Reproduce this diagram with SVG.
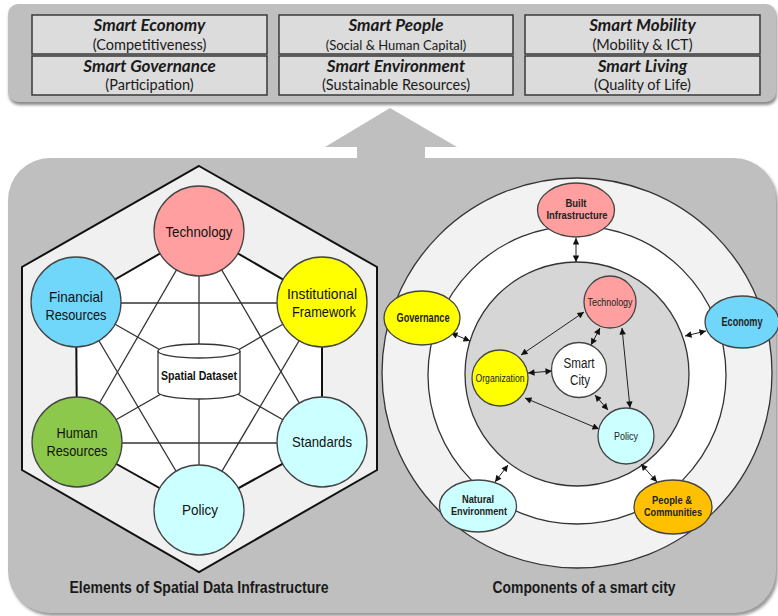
<svg xmlns="http://www.w3.org/2000/svg" width="778" height="616" viewBox="0 0 778 616">
<defs>
<style>
.bx{fill:#dcdcdc;stroke:#3a3a3a;stroke-width:1.5}
.t1{font-family:Lato,"Open Sans","Liberation Sans",sans-serif;font-weight:bold;font-style:italic;font-size:17px;fill:#1a1a1a;text-anchor:middle}
.t2{font-family:Lato,"Open Sans","Liberation Sans",sans-serif;font-size:14.5px;fill:#1a1a1a;text-anchor:middle}
.thick{stroke:#111;stroke-width:2;fill:none}
.thin{stroke:#333;stroke-width:1.3;fill:none}
.nd{stroke:#444;stroke-width:1.3}
.lb{font-family:"Liberation Sans",Arial,sans-serif;font-size:15px;fill:#111;text-anchor:middle}
.sl{font-family:"Liberation Sans",Arial,sans-serif;font-size:12px;font-weight:bold;fill:#222;text-anchor:middle}
.s2{font-family:"Liberation Sans",Arial,sans-serif;font-size:10.5px;font-weight:bold;fill:#222;text-anchor:middle}
.sn{font-family:"Liberation Sans",Arial,sans-serif;font-size:11.5px;fill:#222;text-anchor:middle}
.cap{font-family:"Liberation Sans",Arial,sans-serif;font-size:17px;font-weight:bold;fill:#1a1a1a;text-anchor:middle}
.ar{stroke:#222;stroke-width:1;fill:none;marker-start:url(#ah);marker-end:url(#ah)}
</style>
<marker id="ah" viewBox="0 0 10 10" refX="10" refY="5" markerWidth="8" markerHeight="6.5" orient="auto-start-reverse" markerUnits="userSpaceOnUse">
<path d="M0,0 L10,5 L0,10 z" fill="#111"/>
</marker>
<filter id="sh" x="-5%" y="-5%" width="110%" height="115%"><feGaussianBlur stdDeviation="1.5"/></filter>
</defs>

<!-- top banner -->
<g id="banner">
<rect x="9" y="7" width="768" height="98" rx="10" fill="#8a8a8a" filter="url(#sh)"/>
<rect x="8" y="4" width="768" height="98" rx="10" fill="#bfbfbf"/>
<rect class="bx" x="32" y="15" width="235" height="39"/>
<rect class="bx" x="32" y="56" width="235" height="39"/>
<rect class="bx" x="279" y="15" width="234" height="39"/>
<rect class="bx" x="279" y="56" width="234" height="39"/>
<rect class="bx" x="525" y="15" width="235" height="39"/>
<rect class="bx" x="525" y="56" width="235" height="39"/>
<text class="t1" x="149.5" y="31">Smart Economy</text>
<text class="t2" x="149.5" y="50">(Competitiveness)</text>
<text class="t1" x="149.5" y="72">Smart Governance</text>
<text class="t2" x="149.5" y="90">(Participation)</text>
<text class="t1" x="396" y="31">Smart People</text>
<text class="t2" x="396" y="50" style="font-size:13px">(Social &amp; Human Capital)</text>
<text class="t1" x="396" y="72">Smart Environment</text>
<text class="t2" x="396" y="90">(Sustainable Resources)</text>
<text class="t1" x="642.5" y="31">Smart Mobility</text>
<text class="t2" x="642.5" y="50">(Mobility &amp; ICT)</text>
<text class="t1" x="642.5" y="72">Smart Living</text>
<text class="t2" x="642.5" y="90">(Quality of Life)</text>
</g>

<!-- up arrow and main panel -->
<g id="panel">
<rect x="10" y="161" width="768" height="455" rx="42" fill="#9a9a9a" filter="url(#sh)"/>
<polygon points="390,108 457,147 425,147 425,160 357,160 357,147 325,147" fill="#bfbfbf"/>
<rect x="8" y="158" width="768" height="455" rx="42" fill="#bfbfbf"/>
<polygon points="199,166 377,267 377,470 199,572 22,470 22,267" fill="#f0f0f0" stroke="#111" stroke-width="2"/>
<polygon points="199,231 322,302 322,442 199,510 77,442 76,302" fill="#ffffff"/>
<circle cx="577" cy="373" r="195" fill="#f2f2f2" stroke="#333" stroke-width="1.3"/>
<circle cx="577" cy="375" r="149" fill="#ffffff" stroke="#333" stroke-width="1.3"/>
<circle cx="577" cy="374" r="112" fill="#d6d6d6" stroke="#333" stroke-width="1.3"/>
<text class="cap" x="199" y="593" textLength="259" lengthAdjust="spacingAndGlyphs">Elements of Spatial Data Infrastructure</text>
<text class="cap" x="584" y="593" textLength="183" lengthAdjust="spacingAndGlyphs">Components of a smart city</text>
</g>

<!-- connectors -->
<g id="connectors">
<line class="thick" x1="199" y1="231" x2="76" y2="302"/>
<line class="thick" x1="199" y1="231" x2="322" y2="302"/>
<line class="thick" x1="76" y1="302" x2="77" y2="442"/>
<line class="thick" x1="322" y1="302" x2="322" y2="442"/>
<line class="thick" x1="77" y1="442" x2="199" y2="510"/>
<line class="thick" x1="322" y1="442" x2="199" y2="510"/>
<line class="thin" x1="76" y1="303" x2="322" y2="303"/>
<line class="thin" x1="77" y1="443" x2="322" y2="443"/>
<line class="thin" x1="199" y1="231" x2="199" y2="510"/>
<line class="thin" x1="199" y1="231" x2="77" y2="442"/>
<line class="thin" x1="199" y1="231" x2="322" y2="442"/>
<line class="thin" x1="76" y1="302" x2="199" y2="510"/>
<line class="thin" x1="322" y1="302" x2="199" y2="510"/>
<line class="thin" x1="76" y1="302" x2="322" y2="442"/>
<line class="thin" x1="322" y1="302" x2="77" y2="442"/>

<line class="ar" x1="576" y1="238" x2="576" y2="262"/>
<line class="ar" x1="451" y1="333" x2="470" y2="341"/>
<line class="ar" x1="685" y1="336" x2="706" y2="331"/>
<line class="ar" x1="495" y1="482" x2="508" y2="465"/>
<line class="ar" x1="641" y1="464" x2="657" y2="482"/>
<line class="ar" x1="584" y1="312" x2="521" y2="355"/>
<line class="ar" x1="600" y1="328" x2="591" y2="345"/>
<line class="ar" x1="622" y1="328" x2="630" y2="408"/>
<line class="ar" x1="528" y1="373" x2="552" y2="371"/>
<line class="ar" x1="525" y1="398" x2="599" y2="429"/>
<line class="ar" x1="595" y1="395" x2="608" y2="410"/>
</g>

<!-- SDI nodes -->
<g id="spatial-dataset">
<path d="M158,351 L158,392 A41,7 0 0 0 240,392 L240,351" fill="#ffffff" stroke="#333" stroke-width="1.3"/>
<ellipse cx="199" cy="351" rx="41" ry="7" fill="#ffffff" stroke="#333" stroke-width="1.3"/>
<text class="lb" x="199" y="380" style="font-size:13px;font-weight:bold" textLength="76" lengthAdjust="spacingAndGlyphs">Spatial Dataset</text>
</g>
<g id="technology"><circle class="nd" cx="199" cy="231" r="45" fill="#ff9f9f"/><text class="lb" x="199" y="237" textLength="67" lengthAdjust="spacingAndGlyphs">Technology</text></g>
<g id="financial"><circle class="nd" cx="76" cy="302" r="45" fill="#70d6fa"/><text class="lb" x="76" y="302" textLength="54" lengthAdjust="spacingAndGlyphs">Financial</text><text class="lb" x="76" y="320" textLength="61" lengthAdjust="spacingAndGlyphs">Resources</text></g>
<g id="institutional"><circle class="nd" cx="322" cy="302" r="45" fill="#ffff00"/><text class="lb" x="322" y="299" textLength="70" lengthAdjust="spacingAndGlyphs">Institutional</text><text class="lb" x="324" y="317" textLength="64" lengthAdjust="spacingAndGlyphs">Framework</text></g>
<g id="human"><circle class="nd" cx="77" cy="442" r="45" fill="#8cc84b"/><text class="lb" x="77" y="438" textLength="41" lengthAdjust="spacingAndGlyphs">Human</text><text class="lb" x="77" y="456" textLength="61" lengthAdjust="spacingAndGlyphs">Resources</text></g>
<g id="standards"><circle class="nd" cx="322" cy="442" r="45" fill="#ccffff"/><text class="lb" x="322" y="447" textLength="60" lengthAdjust="spacingAndGlyphs">Standards</text></g>
<g id="policy-sdi"><circle class="nd" cx="199" cy="510" r="45" fill="#ccffff"/><text class="lb" x="200" y="515" textLength="36" lengthAdjust="spacingAndGlyphs">Policy</text></g>

<!-- smart city nodes -->
<g id="built"><ellipse class="nd" cx="576" cy="210" rx="38.5" ry="27" fill="#ff9f9f"/><text class="s2" x="576" y="207" textLength="21" lengthAdjust="spacingAndGlyphs">Built</text><text class="s2" x="577" y="219" textLength="61" lengthAdjust="spacingAndGlyphs">Infrastructure</text></g>
<g id="governance"><ellipse class="nd" cx="422" cy="318" rx="38" ry="27" fill="#ffff00"/><text class="sl" x="423" y="322" textLength="53" lengthAdjust="spacingAndGlyphs">Governance</text></g>
<g id="economy"><ellipse class="nd" cx="742" cy="322" rx="37" ry="26" fill="#70d6fa"/><text class="sl" x="742" y="326" textLength="41" lengthAdjust="spacingAndGlyphs">Economy</text></g>
<g id="natural"><ellipse class="nd" cx="478" cy="506" rx="38.5" ry="26" fill="#ccffff"/><text class="s2" x="478" y="503" textLength="32" lengthAdjust="spacingAndGlyphs">Natural</text><text class="s2" x="479" y="515" textLength="56" lengthAdjust="spacingAndGlyphs">Environment</text></g>
<g id="people"><ellipse class="nd" cx="673" cy="507" rx="39" ry="27" fill="#ffc000"/><text class="s2" x="672" y="504" textLength="40" lengthAdjust="spacingAndGlyphs">People &amp;</text><text class="s2" x="673" y="516" textLength="58" lengthAdjust="spacingAndGlyphs">Communities</text></g>
<g id="tech-sc"><circle class="nd" cx="610" cy="302" r="26" fill="#ff9f9f"/><text class="sn" x="610" y="306" textLength="45" lengthAdjust="spacingAndGlyphs">Technology</text></g>
<g id="organization"><circle class="nd" cx="500" cy="378" r="28" fill="#ffff00"/><text class="sn" x="500" y="382" textLength="49" lengthAdjust="spacingAndGlyphs">Organization</text></g>
<g id="smart-city"><circle class="nd" cx="579" cy="370" r="27.5" fill="#ffffff"/><text class="sn" x="579" y="368" style="font-size:14px" textLength="31" lengthAdjust="spacingAndGlyphs">Smart</text><text class="sn" x="580" y="385" style="font-size:14px" textLength="20" lengthAdjust="spacingAndGlyphs">City</text></g>
<g id="policy-sc"><circle class="nd" cx="626" cy="436" r="28" fill="#ccffff"/><text class="sn" x="626" y="440" textLength="24" lengthAdjust="spacingAndGlyphs">Policy</text></g>
</svg>
